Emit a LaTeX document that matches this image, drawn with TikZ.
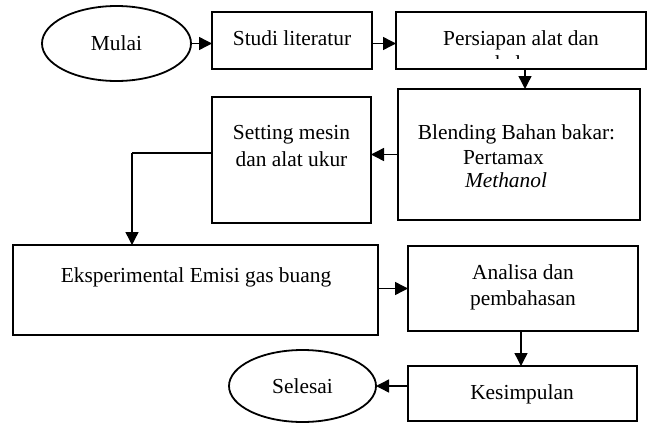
\documentclass[tikz,border=0pt]{standalone}
\usepackage{fontspec}
\setmainfont{Liberation Serif}
\usetikzlibrary{shapes.geometric,arrows.meta,calc}
\begin{document}
\begin{tikzpicture}[x=1pt,y=-1pt,
  every node/.style={inner sep=0pt,outer sep=0pt},
  flowbox/.style={draw,line width=2pt,rectangle},
  flowoval/.style={draw,line width=1.8pt,ellipse},
  txt/.style={anchor=base,font=\fontsize{21.4}{25}\selectfont},
  conn/.style={line width=1.4pt,-{Triangle[length=13pt,width=13pt]}},
  plain/.style={line width=1.4pt}]
\useasboundingbox (0,0) rectangle (648,423);
% boxes
\node[flowoval,minimum width=149pt,minimum height=75pt] (mulai) at (116.5,43.5) {};
\node[flowbox,minimum width=160pt,minimum height=57pt] (studi) at (292,40.5) {};
\node[flowbox,minimum width=250pt,minimum height=57pt] (persiapan) at (521,40.5) {};
\node[flowbox,minimum width=242pt,minimum height=131pt] (blending) at (519,154.5) {};
\node[flowbox,minimum width=159pt,minimum height=126pt] (setting) at (291.5,160) {};
\node[flowbox,minimum width=365pt,minimum height=90pt] (eksp) at (195.5,290) {};
\node[flowbox,minimum width=230pt,minimum height=85pt] (analisa) at (523,288.5) {};
\node[flowbox,minimum width=229pt,minimum height=55pt] (kesimpulan) at (522.5,393.5) {};
\node[flowoval,minimum width=147pt,minimum height=72pt] (selesai) at (302.5,386) {};
% texts
\node[txt,anchor=center] (tmulai) at (mulai.center) {Mulai};
\node[txt] (tstudi) at (292,45) {Studi literatur};
\node[txt] (tpers1) at (521,45) {Persiapan alat dan};
\begin{scope}
\clip (396,55.5) rectangle (646,58.6);
\node[txt] (tpers2) at (521,70.5) {bahan};
\end{scope}
\node[txt] (tset1) at (291.5,139) {Setting mesin};
\node[txt] (tset2) at (291.5,166) {dan alat ukur};
\node[txt] (tbl1) at (516.5,139) {Blending Bahan bakar:};
\node[txt,anchor=base west] (tbl2) at (463,164) {Pertamax};
\node[txt,anchor=base west] (tbl3) at (465,187) {\itshape Methanol};
\node[txt] (teks) at (196,282) {Eksperimental Emisi gas buang};
\node[txt] (tan1) at (523,279) {Analisa dan};
\node[txt] (tan2) at (523,305) {pembahasan};
\node[txt] (tkes) at (522,399) {Kesimpulan};
\node[txt,anchor=center] (tsel) at (selesai.center) {Selesai};
% connectors
\draw[conn] (mulai.east) -- (mulai.east -| studi.west);
\draw[conn] (studi.east |- mulai.east) -- (mulai.east -| persiapan.west);
\draw[conn] ([xshift=4pt]persiapan.south) -- ([xshift=4pt]persiapan.south |- blending.north);
\draw[conn] (blending.west) -- (blending.west -| setting.east);
\coordinate (bend) at (132,153);
\draw[plain] (setting.west |- bend) -- (bend);
\draw[conn] (bend) -- (bend |- eksp.north);
\draw[conn] (eksp.east |- analisa.west) -- (analisa.west);
\draw[conn] ([xshift=-2pt]analisa.south) -- ([xshift=-2pt]analisa.south |- kesimpulan.north);
\draw[conn] (kesimpulan.west |- selesai.east) -- (selesai.east);
\end{tikzpicture}
\end{document}
